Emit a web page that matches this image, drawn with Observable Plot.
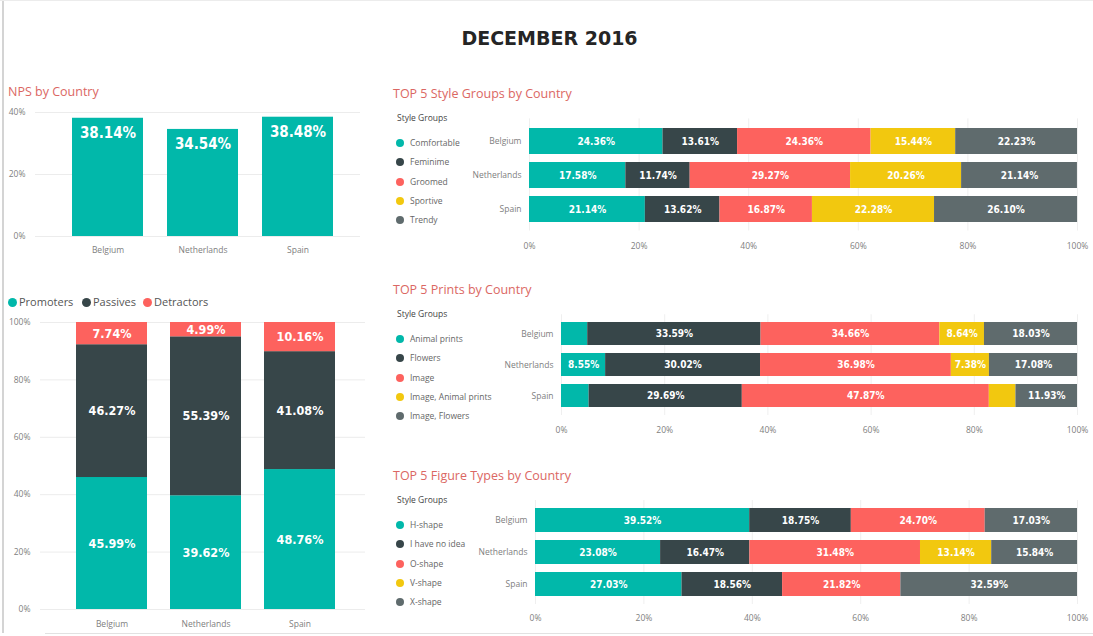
<!DOCTYPE html>
<html>
<head>
<meta charset="utf-8">
<script src="https://cdn.jsdelivr.net/npm/d3@7"></script>
<script src="https://cdn.jsdelivr.net/npm/@observablehq/plot@0.6"></script>
<style>
  html, body { margin: 0; padding: 0; background: #fff; }
  #root { position: relative; width: 1093px; height: 636px; overflow: hidden; font-family: "Open Sans", "Noto Sans", sans-serif; }
  .abs { position: absolute; }
  .title { position: absolute; font-size: 12.5px; color: #DB6763; white-space: nowrap; line-height: 16px; }
  .main { position: absolute; left: 0; width: 1099px; top: 26px; text-align: center; font-family: "DejaVu Sans", sans-serif; font-weight: bold; font-size: 19px; color: #252525; line-height: 24px; }
  .lg { position: absolute; font-size: 8.5px; color: #666; white-space: nowrap; line-height: 12px; }
  .dot { position: absolute; width: 8px; height: 8px; border-radius: 50%; }
  .toplg { position: absolute; font-size: 11px; color: #555; white-space: nowrap; line-height: 14px; }
  svg { overflow: visible; }
</style>
</head>
<body>
<div id="root"></div>
<script>
// ---------------- data ----------------
const countries = ["Belgium", "Netherlands", "Spain"];
const palette = ["#01B8AA", "#374649", "#FD625E", "#F2C80F", "#5F6B6D"];

const npsValues = [38.14, 34.54, 38.48];
const npsTicks = [0, 20, 40];

const npsGroups = ["Promoters", "Passives", "Detractors"];
const promoters = [45.99, 39.62, 48.76];
const passives = [46.27, 55.39, 41.08];
const detractors = [7.74, 4.99, 10.16];
const stackTicks = [0, 20, 40, 60, 80, 100];

const pctTicks = [0, 20, 40, 60, 80, 100];

const styleGroups = ["Comfortable", "Feminime", "Groomed", "Sportive", "Trendy"];
const styleBelgium = [24.36, 13.61, 24.36, 15.44, 22.23];
const styleNetherlands = [17.58, 11.74, 29.27, 20.26, 21.14];
const styleSpain = [21.14, 13.62, 16.87, 22.28, 26.10];

const printGroups = ["Animal prints", "Flowers", "Image", "Image, Animal prints", "Image, Flowers"];
const printBelgium = [5.08, 33.59, 34.66, 8.64, 18.03];
const printNetherlands = [8.55, 30.02, 36.98, 7.38, 17.08];
const printSpain = [5.35, 29.69, 47.87, 5.16, 11.93];

const figureGroups = ["H-shape", "I have no idea", "O-shape", "V-shape", "X-shape"];
const figureBelgium = [39.52, 18.75, 24.70, 0, 17.03];
const figureNetherlands = [23.08, 16.47, 31.48, 13.14, 15.84];
const figureSpain = [27.03, 18.56, 21.82, 0, 32.59];

// ---------------- helpers ----------------
const root = document.getElementById("root");
function div(cls, css, text) {
  const d = document.createElement("div");
  d.className = cls;
  Object.assign(d.style, css);
  if (text != null) d.textContent = text;
  root.appendChild(d);
  return d;
}
function place(svg, left, top) {
  svg.style.position = "absolute";
  svg.style.left = left + "px";
  svg.style.top = top + "px";
  root.appendChild(svg);
}
const labelFont = "DejaVu Sans Condensed, DejaVu Sans, sans-serif";
const axisStyle = { fontFamily: "Open Sans, Noto Sans, sans-serif", fontSize: "8.5px", color: "#808080", background: "transparent", overflow: "visible" };
const fmt = v => v.toFixed(2) + "%";

function stackRows(groups, rowsByCountry) {
  const out = [];
  countries.forEach((c, i) => {
    let acc = 0;
    rowsByCountry[i].forEach((v, j) => {
      out.push({ country: c, group: groups[j], value: v, a: acc, b: acc + v, mid: acc + v / 2 });
      acc += v;
    });
  });
  return out;
}

// frame
div("abs", { left: "2px", top: "0px", width: "2px", height: "633px", background: "#d4d4d4" });
div("abs", { left: "0px", top: "0px", width: "1093px", height: "1px", background: "#ececec" });
div("abs", { left: "45px", top: "633px", width: "1048px", height: "1px", background: "#e2e2e2" });

div("main", {}, "DECEMBER 2016");

// ---------------- NPS by Country ----------------
div("title", { left: "8px", top: "84px" }, "NPS by Country");
const npsData = countries.map((c, i) => ({ country: c, value: npsValues[i] }));
place(Plot.plot({
  width: 370, height: 160,
  marginLeft: 35, marginRight: 10, marginTop: 12, marginBottom: 24,
  style: axisStyle,
  x: { domain: countries, range: [48, 358], padding: 0.25, label: null },
  y: { domain: [0, 40], label: null },
  marks: [
    Plot.ruleY(npsTicks, { stroke: "#ececec" }),
    Plot.barY(npsData, { x: "country", y: "value", fill: palette[0] }),
    Plot.text(npsData, { x: "country", y: "value", dy: 15, text: d => fmt(d.value), fill: "white", fontWeight: "bold", fontSize: 15, fontFamily: labelFont }),
    Plot.axisY({ ticks: npsTicks, tickFormat: d => d + "%", tickSize: 0, tickPadding: 10, label: null }),
    Plot.axisX({ tickSize: 0, tickPadding: 10, label: null })
  ]
}), 0, 100);

// ---------------- Promoters / Passives / Detractors ----------------
const topLegendPos = [[8, "Promoters"], [82, "Passives"], [143, "Detractors"]];
topLegendPos.forEach(([x, name], i) => {
  div("dot", { left: x + "px", top: "298px", width: "9px", height: "9px", background: palette[i] });
  div("toplg", { left: (x + 11) + "px", top: "295px" }, name);
});
const stackData = stackRows(npsGroups, countries.map((c, i) => [promoters[i], passives[i], detractors[i]]));
place(Plot.plot({
  width: 370, height: 326,
  marginLeft: 40, marginRight: 5, marginTop: 12, marginBottom: 27,
  style: axisStyle,
  x: { domain: countries, range: [52, 358], padding: 0.25, label: null },
  y: { domain: [0, 100], label: null },
  color: { domain: npsGroups, range: [palette[0], palette[1], palette[2]] },
  marks: [
    Plot.ruleY(stackTicks, { stroke: "#ececec" }),
    Plot.barY(stackData, { x: "country", y1: "a", y2: "b", fill: "group" }),
    Plot.text(stackData, { x: "country", y: "mid", text: d => fmt(d.value), fill: "white", fontWeight: "bold", fontSize: 12.5, fontFamily: labelFont }),
    Plot.axisY({ ticks: stackTicks, tickFormat: d => d + "%", tickSize: 0, tickPadding: 10, label: null }),
    Plot.axisX({ tickSize: 0, tickPadding: 11, label: null })
  ]
}), 0, 310);

// ---------------- horizontal 100% stacked bars ----------------
function hPanel({ title, titleTop, legendTop, groups, rows, svgTop, height, frameLeft, yRange, tickPad }) {
  div("title", { left: "393px", top: (titleTop - 8) + "px" }, title);
  div("lg", { left: "397px", top: (legendTop - 6) + "px", color: "#444" }, "Style Groups");
  const itemYs = [25, 44, 64, 83, 102];
  groups.forEach((g, i) => {
    const cy = legendTop + itemYs[i];
    div("dot", { left: "396px", top: (cy - 4) + "px", background: palette[i] });
    div("lg", { left: "410px", top: (cy - 6) + "px" }, g);
  });
  const data = stackRows(groups, rows).filter(d => d.value > 0);
  const width = 703;
  place(Plot.plot({
    width, height,
    marginLeft: frameLeft, marginRight: 16, marginTop: yRange[0], marginBottom: height - yRange[1],
    style: axisStyle,
    x: { domain: [0, 100], label: null },
    y: { domain: countries, range: yRange, padding: 0.25, label: null },
    color: { domain: groups, range: palette },
    marks: [
      Plot.ruleX(pctTicks, { stroke: "#efefef" }),
      Plot.barX(data, { y: "country", x1: "a", x2: "b", fill: "group" }),
      Plot.text(data.filter(d => d.value >= 7), { y: "country", x: "mid", text: d => fmt(d.value), fill: "white", fontWeight: "bold", fontSize: 10, fontFamily: labelFont }),
      Plot.axisX({ ticks: pctTicks, tickFormat: d => d + "%", tickSize: 0, tickPadding: tickPad, label: null }),
      Plot.axisY({ tickSize: 0, tickPadding: 8, label: null })
    ]
  }), 390, svgTop);
}

hPanel({
  title: "TOP 5 Style Groups by Country", titleTop: 94, legendTop: 118,
  groups: styleGroups, rows: [styleBelgium, styleNetherlands, styleSpain],
  svgTop: 112, height: 145, frameLeft: 139, yRange: [6.4, 118.5], tickPad: 12
});
hPanel({
  title: "TOP 5 Prints by Country", titleTop: 290, legendTop: 314,
  groups: printGroups, rows: [printBelgium, printNetherlands, printSpain],
  svgTop: 300, height: 140, frameLeft: 171, yRange: [14.25, 115], tickPad: 11
});
hPanel({
  title: "TOP 5 Figure Types by Country", titleTop: 476, legendTop: 500,
  groups: figureGroups, rows: [figureBelgium, figureNetherlands, figureSpain],
  svgTop: 490, height: 140, frameLeft: 145, yRange: [10, 114], tickPad: 10
});
</script>
</body>
</html>
